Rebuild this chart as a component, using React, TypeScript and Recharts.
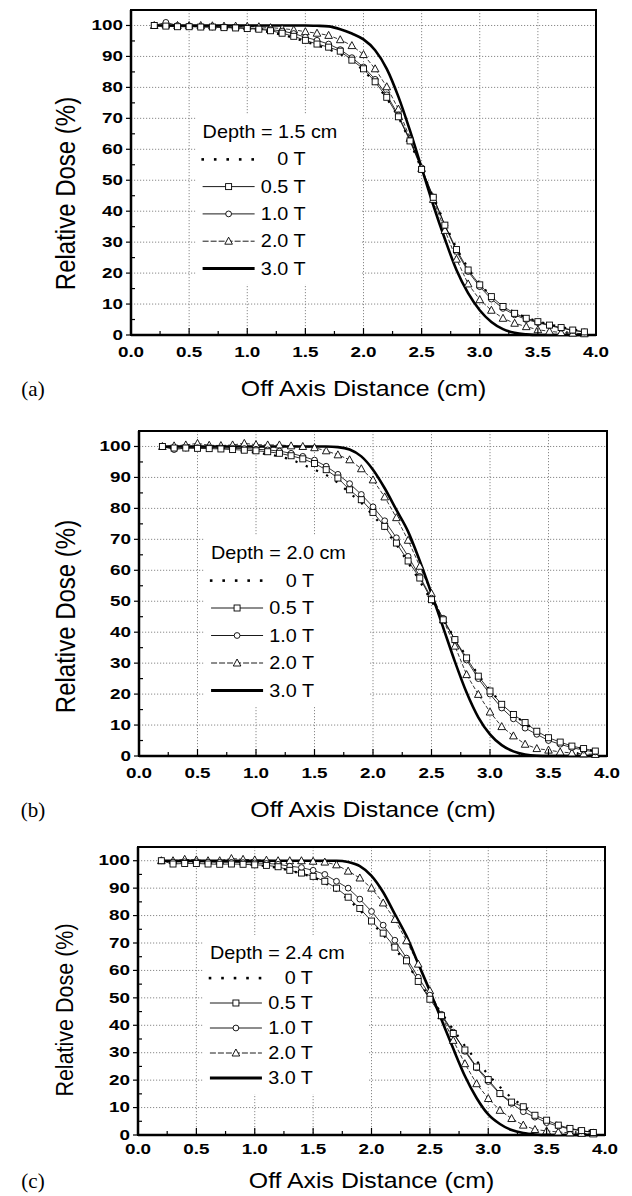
import { CartesianGrid, ComposedChart, Line, ReferenceArea, XAxis, YAxis } from 'recharts'

// off-axis positions (cm) where the profiles were sampled
const offAxis = [
  0.2, 0.3, 0.4, 0.5, 0.6, 0.7, 0.8, 0.9, 1.0, 1.1, 1.2, 1.3, 1.4, 1.5, 1.6, 1.7, 1.8, 1.9, 2.0,
  2.1, 2.2, 2.3, 2.4, 2.5, 2.6, 2.7, 2.8, 2.9, 3.0, 3.1, 3.2, 3.3, 3.4, 3.5, 3.6, 3.7, 3.8, 3.9,
]

// depth 1.5 cm
const d15_0T = [100, 99.8, 99.6, 99.6, 99.5, 99.4, 99.2, 99, 98.7, 98.3, 97.8, 97, 96, 94.8, 93.6, 92.3, 90.8, 88.5, 85.5, 81.5, 76.5, 70.5, 62.5, 53.5, 44.5, 36, 28, 21.5, 16.5, 12.5, 9.5, 7.3, 5.6, 4.4, 3.4, 2.6, 1.8, 1.2]
const d15_05T = [100, 99.8, 99.6, 99.6, 99.5, 99.5, 99.3, 99.2, 99, 98.8, 98.3, 97.5, 96.5, 95.2, 94, 93, 91.7, 88.8, 86, 81.8, 76.8, 70.5, 62.7, 53.5, 44.5, 35.5, 27.6, 21, 16.2, 12.4, 9.2, 7, 5.4, 4.3, 3.2, 2.4, 1.6, 1]
const d15_10T = [100, 101, 100, 99.8, 99.6, 99.5, 99.5, 99.3, 99.2, 99, 98.7, 98.2, 97.4, 96.2, 95.2, 94, 92.2, 89.6, 86.6, 82.6, 77.6, 71, 63, 54, 44.6, 35.4, 27, 20.5, 15.6, 11.6, 8.6, 6.5, 5, 4, 3, 2.2, 1.5, 1]
const d15_20T = [100, 100.2, 100, 100, 100, 99.9, 99.8, 99.8, 99.7, 99.6, 99.3, 99, 98.6, 98, 97.5, 96.8, 95.4, 93.5, 90.6, 86, 80.2, 73, 63.5, 53.8, 43.8, 33.8, 24.5, 16.5, 11.4, 8, 5.4, 3.8, 2.7, 1.7, 1.2, 0.8, 0.6, 0.4]
const d15_30T = [100, 100, 100, 100, 100, 100, 100, 100, 100, 100, 100, 100, 100, 100, 99.9, 99.7, 98.8, 97.4, 95.5, 92, 86, 77, 66, 54, 42, 31, 21, 13.5, 8, 4.2, 1.9, 0.7, 0.2, 0, 0, 0, 0, 0]

// depth 2.0 cm
const d20_0T = [100, 99.6, 99.5, 99.4, 99.3, 99, 98.7, 98.4, 98, 97.5, 96.8, 95.8, 94.2, 92.5, 90.8, 88.3, 85, 81.8, 77.8, 73.3, 68.3, 62.5, 56.5, 50, 44, 38, 32, 26.2, 21.2, 17, 13.5, 10.5, 8, 6, 4.5, 3.2, 2.3, 1.6]
const d20_05T = [100, 99.5, 99.5, 99.4, 99.3, 99.2, 99, 98.8, 98.6, 98.3, 97.8, 97, 96, 94.5, 92.5, 89.8, 86, 82.8, 78.7, 74.2, 68.8, 63, 57.5, 50.5, 44, 37.6, 31.7, 25.8, 21, 16.7, 13.4, 10.8, 8, 5.9, 4.5, 3.2, 2.4, 1.6]
const d20_10T = [100, 99, 99.5, 99.6, 99.6, 99.5, 99.4, 99.3, 99.1, 98.9, 98.5, 97.8, 96.8, 95.6, 93.6, 91, 88, 84.5, 80.5, 76, 70.5, 64.5, 58, 51, 44.5, 37.5, 31, 25, 20, 15.5, 12, 9, 7, 5, 3.8, 2.7, 1.9, 1.3]
const d20_20T = [100, 100.2, 100.5, 101, 100.4, 100.3, 100.5, 101, 100.6, 100.5, 100.5, 100.2, 100, 99.6, 98.6, 97.3, 95.7, 92.8, 89.2, 83.7, 77, 69.7, 61.3, 52.5, 44, 35.5, 26.3, 19.9, 14.2, 9.5, 6.5, 3.8, 2.4, 1.9, 1.3, 1, 0.7, 0.5]
const d20_30T = [100, 100, 100, 100, 100, 100, 100, 100, 100, 100, 100, 100, 100, 100, 100, 99.8, 99, 96.8, 92.5, 86.5, 79.5, 72.5, 63, 52.5, 41.5, 30.5, 20.5, 12.5, 7, 3.5, 1.5, 0.5, 0.1, 0, 0, 0, 0, 0]

// depth 2.4 cm
const d24_0T = [100, 99, 99.2, 99.3, 99.2, 99, 98.8, 98.6, 98.4, 98, 97.4, 96.4, 95.3, 94, 92, 89, 86, 82, 77.5, 73, 68, 62.5, 56.5, 50, 44.5, 38.5, 32.5, 27, 22, 17.5, 13.5, 10.5, 8, 6, 4.2, 3, 2, 1.3]
const d24_05T = [100, 98.8, 99, 99, 98.8, 98.7, 98.8, 98.7, 98.5, 98.3, 97.8, 96.5, 95.5, 94.3, 92.5, 90, 86.7, 82.6, 78, 73.6, 68.5, 63.5, 56, 49.5, 43.5, 37, 31, 24.8, 20.2, 15.1, 12, 10.3, 7.2, 5.4, 3.6, 2.4, 1.6, 0.9]
const d24_10T = [100, 99.5, 99.6, 99.6, 99.5, 99.4, 99.4, 99.3, 99.2, 99, 98.7, 98, 97.5, 96.5, 95, 92.5, 90, 86, 81.5, 76.5, 71, 64.5, 57.5, 51, 44, 37.5, 30.5, 24.5, 19.5, 15, 11.5, 8.5, 6.5, 4.5, 3.2, 2.2, 1.5, 1]
const d24_20T = [100, 100, 100.5, 100.3, 100, 100, 100.8, 100.5, 100.3, 100.2, 100, 100, 100, 99.8, 99.5, 98.5, 96.2, 93.7, 90, 84.6, 78.6, 70.8, 62.3, 52.6, 43.5, 34.5, 26, 18.7, 13.3, 9, 6, 3.6, 2, 1.5, 1.1, 0.8, 0.6, 0.4]
const d24_30T = [100, 100, 100, 100, 100, 100, 100, 100, 100, 100, 100, 100, 100, 100, 100, 100, 99.5, 98, 94.5, 88.5, 80.5, 72.5, 62.5, 52.5, 42, 31.5, 21.5, 13.5, 7.5, 4, 1.8, 0.7, 0.2, 0, 0, 0, 0, 0]

const fieldLabels = ['0 T', '0.5 T', '1.0 T', '2.0 T', '3.0 T']
const depthLabels = ['1.5', '2.0', '2.4']
const panelTags = ['(a)', '(b)', '(c)']

const xTicks = [0, 0.25, 0.5, 0.75, 1, 1.25, 1.5, 1.75, 2, 2.25, 2.5, 2.75, 3, 3.25, 3.5, 3.75, 4]
const yTicks = [0, 5, 10, 15, 20, 25, 30, 35, 40, 45, 50, 55, 60, 65, 70, 75, 80, 85, 90, 95, 100]
const xGrid = [0.5, 1, 1.5, 2, 2.5, 3, 3.5]
const yGrid = [10, 20, 30, 40, 50, 60, 70, 80, 90, 100]

const seriesByPanel = [
  [d15_0T, d15_05T, d15_10T, d15_20T, d15_30T],
  [d20_0T, d20_05T, d20_10T, d20_20T, d20_30T],
  [d24_0T, d24_05T, d24_10T, d24_20T, d24_30T],
]

// page layout of each panel (pixels)
const layout = [
  { top: 10, bottom: 335, left: 131, right: 596, tickDy: 17, titleDy: 54, yTitleDy: 21, yTitleSize: 24, legendY: 132, legendStep: 27.3 },
  { top: 431, bottom: 756, left: 139, right: 607, tickDy: 17, titleDy: 54, yTitleDy: 23, yTitleSize: 24, legendY: 553, legendStep: 27.5 },
  { top: 847, bottom: 1135, left: 138, right: 605, tickDy: 14, titleDy: 46, yTitleDy: 19, yTitleSize: 21.5, legendY: 953, legendStep: 25 },
]

const SANS = '"Liberation Sans", Arial, sans-serif'
const SERIF = '"Liberation Serif", "Times New Roman", serif'
const TICK_SX = 1.3
const LEGEND_SX = 1.1

const isMajorX = (v: number) => Math.abs(v * 2 - Math.round(v * 2)) < 1e-6

function XTick(props: any, dy: number) {
  const { x, y, payload } = props
  const major = isMajorX(payload.value)
  return (
    <g>
      <line x1={x} x2={x} y1={y} y2={y - (major ? 7 : 4)} stroke="#000" strokeWidth={1.2} />
      {major && (
        <text
          transform={`translate(${x},${y + dy}) scale(${TICK_SX},1)`}
          textAnchor="middle"
          dominantBaseline="central"
          fontFamily={SANS}
          fontWeight="bold"
          fontSize={14.5}
          fill="#000"
        >
          {payload.value.toFixed(1)}
        </text>
      )}
    </g>
  )
}

function YTick(props: any) {
  const { x, y, payload } = props
  const major = payload.value % 10 === 0
  return (
    <g>
      {major ? (
        <line x1={x - 5} x2={x} y1={y} y2={y} stroke="#000" strokeWidth={1.2} />
      ) : (
        <line x1={x} x2={x + 4} y1={y} y2={y} stroke="#000" strokeWidth={1.2} />
      )}
      {major && (
        <text
          transform={`translate(${x - 8},${y}) scale(${TICK_SX},1)`}
          textAnchor="end"
          dominantBaseline="central"
          fontFamily={SANS}
          fontWeight="bold"
          fontSize={14.5}
          fill="#000"
        >
          {payload.value}
        </text>
      )}
    </g>
  )
}

const squareDot = (p: any) => (
  <rect key={`sq${p.index}`} x={p.cx - 3} y={p.cy - 3} width={6} height={6} fill="#fff" stroke="#000" strokeWidth={0.9} />
)
const circleDot = (p: any) => (
  <circle key={`ci${p.index}`} cx={p.cx} cy={p.cy} r={2.9} fill="#fff" stroke="#000" strokeWidth={0.9} />
)
const triangleDot = (p: any) => (
  <polygon
    key={`tr${p.index}`}
    points={`${p.cx},${p.cy - 4} ${p.cx - 3.8},${p.cy + 3} ${p.cx + 3.8},${p.cy + 3}`}
    fill="#fff"
    stroke="#000"
    strokeWidth={0.9}
  />
)

function Panel({ index }: { index: number }) {
  const L = layout[index]
  const s = seriesByPanel[index]
  const data = offAxis.map((x, i) => ({ x, t0: s[0][i], t05: s[1][i], t10: s[2][i], t20: s[3][i], t30: s[4][i] }))
  const plotH = L.bottom - L.top

  return (
    <div style={{ position: 'absolute', left: 0, top: L.top - 10 }}>
      <ComposedChart
        width={632}
        height={plotH + 80}
        data={data}
        margin={{ top: 10, right: 632 - L.right, bottom: 5, left: 0 }}
      >
        <CartesianGrid stroke="#8a8a8a" strokeDasharray="1.2 1.8" horizontalValues={yGrid} verticalValues={xGrid} />
        <XAxis
          type="number"
          dataKey="x"
          domain={[0, 4]}
          ticks={xTicks}
          interval={0}
          height={65}
          tickSize={0}
          tickMargin={0}
          tickLine={false}
          axisLine={{ stroke: '#000', strokeWidth: 2.5 }}
          tick={(p: any) => XTick(p, L.tickDy)}
        />
        <YAxis
          type="number"
          domain={[0, 105]}
          ticks={yTicks}
          interval={0}
          width={L.left}
          tickSize={0}
          tickMargin={0}
          tickLine={false}
          axisLine={{ stroke: '#000', strokeWidth: 2.5 }}
          tick={YTick}
        />
        <ReferenceArea x1={0} x2={4} y1={0} y2={105} fill="none" stroke="#000" strokeWidth={2} />
        <Line dataKey="t30" type="monotone" stroke="#000" strokeWidth={2.6} dot={false} isAnimationActive={false} />
        <Line dataKey="t0" type="linear" stroke="#000" strokeWidth={2.2} strokeDasharray="2.2 9" dot={false} isAnimationActive={false} />
        <Line dataKey="t20" type="linear" stroke="#000" strokeWidth={0.8} strokeDasharray="4 2" dot={triangleDot} isAnimationActive={false} />
        <Line dataKey="t10" type="linear" stroke="#000" strokeWidth={0.8} dot={circleDot} isAnimationActive={false} />
        <Line dataKey="t05" type="linear" stroke="#000" strokeWidth={0.8} dot={squareDot} isAnimationActive={false} />
      </ComposedChart>
    </div>
  )
}

function LegendSample({ kind, x, y }: { kind: number; x: number; y: number }) {
  const w = 52
  const m = x + w / 2
  if (kind === 0) {
    return (
      <g>
        {[0, 1, 2, 3, 4].map((k) => (
          <rect key={k} x={x + k * 12.5 - 1.2} y={y - 1.2} width={2.6} height={2.6} fill="#000" />
        ))}
      </g>
    )
  }
  if (kind === 4) return <line x1={x} x2={x + w} y1={y} y2={y} stroke="#000" strokeWidth={2.8} />
  return (
    <g>
      <line x1={x} x2={x + w} y1={y} y2={y} stroke="#000" strokeWidth={0.9} strokeDasharray={kind === 3 ? '6 2' : undefined} />
      {kind === 1 && squareDot({ cx: m, cy: y, index: 'l' })}
      {kind === 2 && circleDot({ cx: m, cy: y, index: 'l' })}
      {kind === 3 && triangleDot({ cx: m, cy: y, index: 'l' })}
    </g>
  )
}

function Overlay() {
  return (
    <svg width={632} height={1196} style={{ position: 'absolute', left: 0, top: 0, pointerEvents: 'none' }}>
      {layout.map((L, i) => {
        const plotW = L.right - L.left
        const lx = L.left + plotW * 0.154
        const lastRow = L.legendY + L.legendStep * 5
        const midY = (L.top + L.bottom) / 2 + L.yTitleDy
        return (
          <g key={i}>
            <rect x={lx - 7} y={L.legendY - 18} width={165} height={lastRow - L.legendY + 34} fill="#fff" />
            <text
              transform={`translate(${lx},${L.legendY}) scale(${LEGEND_SX},1)`}
              dominantBaseline="central"
              fontFamily={SANS}
              fontSize={18}
              fill="#000"
            >
              {`Depth = ${depthLabels[i]} cm`}
            </text>
            {fieldLabels.map((lab, k) => {
              const ry = L.legendY + L.legendStep * (k + 1)
              return (
                <g key={lab}>
                  <LegendSample kind={k} x={lx} y={ry} />
                  <text
                    transform={`translate(${lx + 103},${ry}) scale(${LEGEND_SX},1)`}
                    textAnchor="end"
                    dominantBaseline="central"
                    fontFamily={SANS}
                    fontSize={18}
                    fill="#000"
                  >
                    {lab}
                  </text>
                </g>
              )
            })}
            <text
              transform={`translate(65,${midY}) scale(1.13,1) rotate(-90)`}
              textAnchor="middle"
              dominantBaseline="central"
              fontFamily={SANS}
              fontSize={L.yTitleSize}
              fill="#000"
            >
              Relative Dose (%)
            </text>
            <text
              transform={`translate(${(L.left + L.right) / 2},${L.bottom + L.titleDy}) scale(1.13,1)`}
              textAnchor="middle"
              dominantBaseline="central"
              fontFamily={SANS}
              fontSize={22}
              fill="#000"
            >
              Off Axis Distance (cm)
            </text>
            <text
              x={33}
              y={L.bottom + L.titleDy}
              textAnchor="middle"
              dominantBaseline="central"
              fontFamily={SERIF}
              fontSize={21}
              fill="#000"
            >
              {panelTags[i]}
            </text>
          </g>
        )
      })}
    </svg>
  )
}

export default function App() {
  return (
    <div style={{ position: 'absolute', left: 0, top: 0, width: 632, height: 1196, background: '#fff' }}>
      <Panel index={0} />
      <Panel index={1} />
      <Panel index={2} />
      <Overlay />
    </div>
  )
}
